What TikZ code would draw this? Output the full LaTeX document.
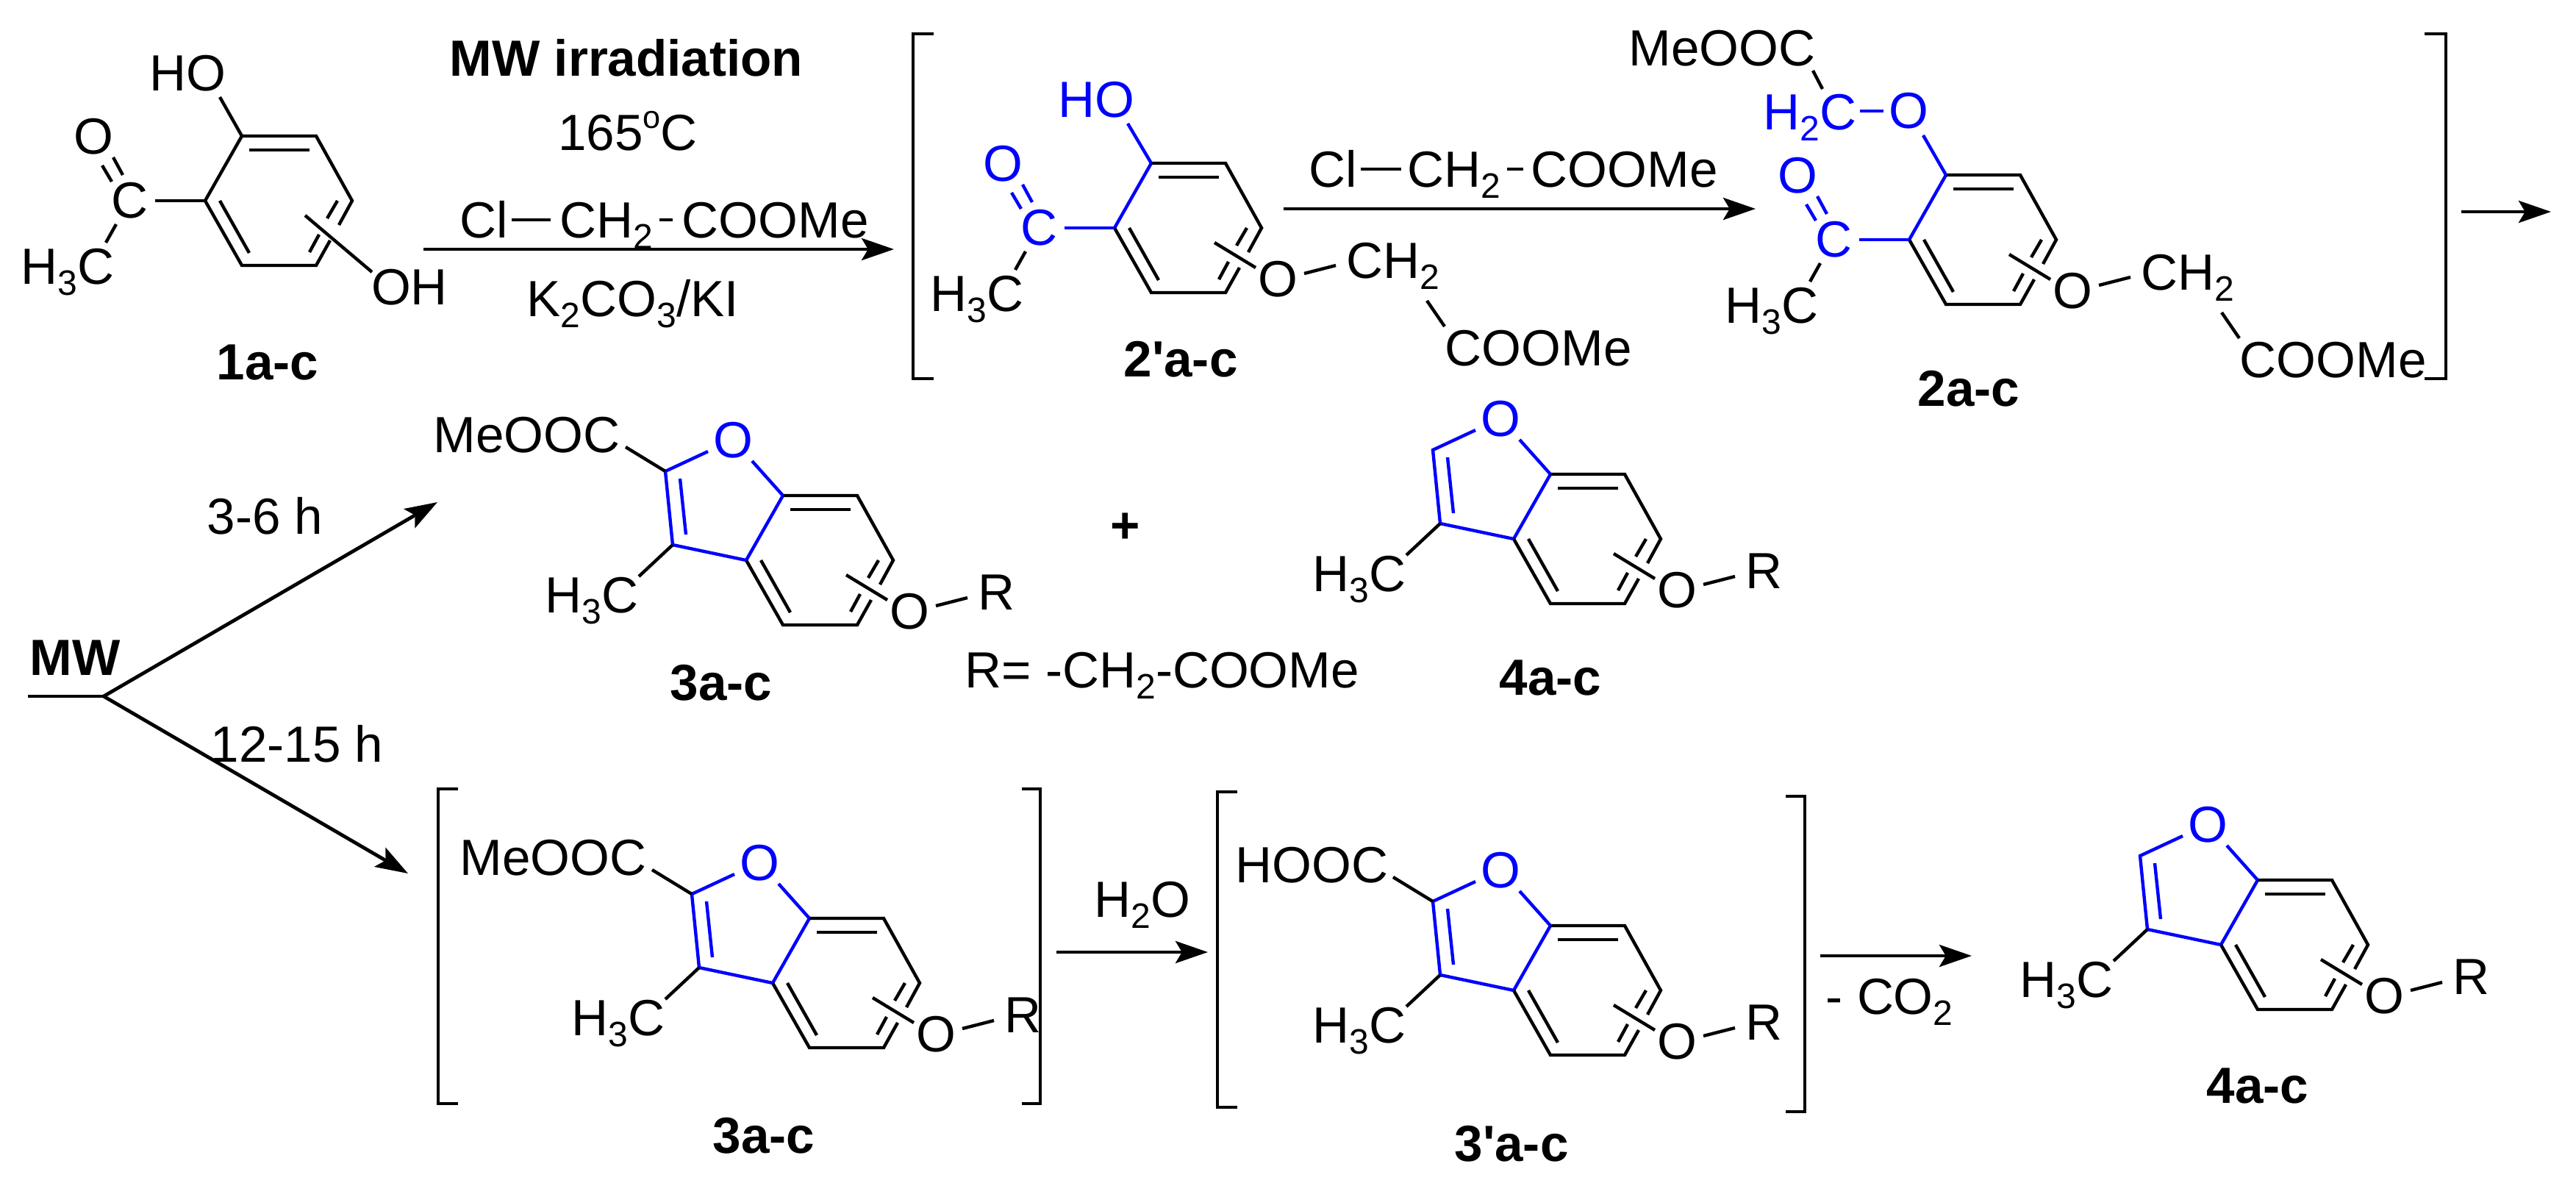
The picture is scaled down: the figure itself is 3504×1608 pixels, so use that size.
\documentclass[tikz,border=0pt]{standalone}
\usepackage{fontspec}
\setmainfont{Liberation Sans}
\newfontfamily\rawfam{Liberation Sans}
\usetikzlibrary{arrows.meta}
\definecolor{hiblue}{RGB}{0,0,255}
\newcommand\sbs[1]{\raisebox{-3.9pt}{\fontsize{12}{12}\selectfont #1}}
\newcommand\sps[1]{\raisebox{7.5pt}{\fontsize{10.8}{12}\selectfont #1}}
\newcommand\prm{{\rawfam\bfseries '}}
\tikzset{
  x=0.25pt,y=-0.25pt,
  bond/.style={line width=1.1pt,line cap=butt,line join=miter},
  rxn/.style={line width=1.2pt,-{Stealth[length=11pt,width=7.5pt,inset=2.2pt]}},
  brk/.style={line width=1.1pt,line join=miter},
  txt/.style={anchor=base west,inner sep=0pt,font=\fontsize{17.3}{20}\selectfont},
  atom/.style={anchor=center,inner sep=0pt,font=\fontsize{17.3}{20}\selectfont},
  lab/.style={anchor=center,inner sep=0pt,font=\fontsize{17.3}{20}\selectfont\bfseries},
  flat/.style={text height=12pt,text depth=0pt}
}
% benzene ring, L is the left vertex
\newcommand\RingAr[4]{%
 \begin{scope}[shift={(#2,#3)}]
  \coordinate (#1L) at (0,0);
  \coordinate (#1TL) at (50,-88);
  \coordinate (#1TR) at (151,-88);
  \coordinate (#1R) at (200,0);
  \coordinate (#1BR) at (151,88);
  \coordinate (#1BL) at (50,88);
  \coordinate (#1ga) at (182,33);
  \coordinate (#1gb) at (170,54);
  \coordinate (#1ia) at (60,-69);
  \coordinate (#1ib) at (142,-69);
  \coordinate (#1ic) at (20,0);
  \coordinate (#1id) at (60,71);
  \coordinate (#1ie) at (180,0);
  \coordinate (#1if) at (166,24);
  \coordinate (#1ig) at (155,46);
  \coordinate (#1ih) at (142,70);
  \coordinate (#1sa) at (136,20);
  \draw[bond,#4] (#1L) -- (#1TL);
  \draw[bond] (#1TL) -- (#1TR) -- (#1R) -- (#1ga);
  \draw[bond] (#1gb) -- (#1BR) -- (#1BL) -- (#1L);
  \draw[bond] (#1ia) -- (#1ib);
  \draw[bond] (#1ic) -- (#1id);
  \draw[bond] (#1ie) -- (#1if);
  \draw[bond] (#1ig) -- (#1ih);
 \end{scope}}
% ring oxygen substituent
\newcommand\OSub[3]{%
 \begin{scope}[shift={(#2,#3)}]
  \coordinate (#1sb) at (192,54);
  \node[atom] (#1oa) at (222,70) {O};
  \coordinate (#1oe) at (258,62);
  \coordinate (#1of) at (301,51);
  \draw[bond] (#1sa) -- (#1sb);
  \draw[bond] (#1oe) -- (#1of);
 \end{scope}}
% -O-R
\newcommand\RPart[3]{%
 \begin{scope}[shift={(#2,#3)}]
  \node[txt] (#1r) at (315,67) {R};
 \end{scope}}
% -O-CH2-COOMe chain
\newcommand\Chain[3]{%
 \begin{scope}[shift={(#2,#3)}]
  \node[txt] (#1ch) at (315,68) {CH\sbs{2}};
  \coordinate (#1ca) at (425,99);
  \coordinate (#1cb) at (449,134);
  \node[txt] (#1coo) at (449,187) {COOMe};
  \draw[bond] (#1ca) -- (#1cb);
 \end{scope}}
% acetyl group
\newcommand\Acetyl[4]{%
 \begin{scope}[shift={(#2,#3)}]
  \node[atom,text=#4] (#1c) at (-103,0) {C};
  \node[atom,text=#4] (#1co) at (-152,-87) {O};
  \coordinate (#1da) at (-140,-48);
  \coordinate (#1db) at (-127,-26);
  \coordinate (#1dc) at (-125,-59);
  \coordinate (#1dd) at (-112,-35);
  \coordinate (#1cl) at (-68,0);
  \coordinate (#1ma) at (-121,32);
  \coordinate (#1mb) at (-135,57);
  \node[txt] (#1me) at (-251,113) {H\sbs{3}C};
  \draw[bond,#4] (#1da) -- (#1db);
  \draw[bond,#4] (#1dc) -- (#1dd);
  \draw[bond,#4] (#1cl) -- (#1L);
  \draw[bond] (#1ma) -- (#1mb);
 \end{scope}}
% furan part, fused on the ring
\newcommand\Furan[3]{%
 \begin{scope}[shift={(#2,#3)}]
  \coordinate (#1c3) at (-100,-21);
  \coordinate (#1c2) at (-110,-121);
  \node[atom,text=hiblue] (#1fo) at (-18,-163) {O};
  \coordinate (#1fa) at (-52,-148);
  \coordinate (#1fb) at (8,-135);
  \coordinate (#1fc) at (-90,-111);
  \coordinate (#1fd) at (-82,-35);
  \coordinate (#1me) at (-146,22);
  \node[txt] (#1mt) at (-274,71) {H\sbs{3}C};
  \draw[bond,hiblue] (#1fa) -- (#1c2) -- (#1c3) -- (#1L);
  \draw[bond,hiblue] (#1fb) -- (#1TL);
  \draw[bond,hiblue] (#1fc) -- (#1fd);
  \draw[bond] (#1c3) -- (#1me);
 \end{scope}}
% ester on C2
\newcommand\Ester[5]{%
 \begin{scope}[shift={(#2,#3)}]
  \coordinate (#1eb) at (-164,-154);
  \node[txt] (#1es) at (#4,-147) {#5};
  \draw[bond] (#1eb) -- (#1c2);
 \end{scope}}
\begin{document}
\begin{tikzpicture}
\useasboundingbox (0,0) rectangle (3504,1608);
\fill[white] (0,0) rectangle (3504,1608);

% ---- compound 1
\RingAr{a}{279}{273}{black}
\Acetyl{a}{279}{273}{black}
\node[atom] (aho) at (255,100) {HO};
\coordinate (ahb) at (299,132);
\draw[bond] (ahb) -- (aTL);
\node[atom] (aoh) at (557,391) {OH};
\coordinate (ase) at (506,370);
\draw[bond] (asa) -- (ase);
\node[lab] (n1) at (364,493) {1a-c};

% ---- reagents 1
\node[lab] (mwi) at (852,79) {MW irradiation};
\node[atom] (tmp) at (854,178) {165\sps{o}C};
\node[txt,flat] (cla) at (625,323) {Cl};
\node[txt,flat] (cha) at (761,323) {CH\sbs{2}};
\node[txt,flat] (esa) at (927,323) {COOMe};
\draw[bond,shorten <=1pt,shorten >=3pt] (cla.east) -- (cha.west);
\draw[bond,shorten <=2pt,shorten >=3pt] (cha.east) -- (esa.west);
\coordinate (ar1s) at (576,339);
\coordinate (ar1e) at (1216,339);
\draw[rxn] (ar1s) -- (ar1e);
\node[txt] (kbase) at (716,430) {K\sbs{2}CO\sbs{3}/KI};

% ---- bracket top left
\draw[brk] (1270,46) -- (1242,46) -- (1242,515) -- (1270,515);

% ---- compound 2'
\RingAr{b}{1516}{310}{hiblue}
\Acetyl{b}{1516}{310}{hiblue}
\OSub{b}{1516}{310}
\Chain{b}{1516}{310}
\node[atom,text=hiblue] (bho) at (1491,136) {HO};
\coordinate (bhb) at (1534,168);
\draw[bond,hiblue] (bhb) -- (bTL);
\node[lab] (n2p) at (1606,489) {2\prm a-c};

% ---- reagents 2
\node[txt,flat] (clb) at (1780,254) {Cl};
\node[txt,flat] (chb) at (1914,254) {CH\sbs{2}};
\node[txt,flat] (esb) at (2082,254) {COOMe};
\draw[bond,shorten <=1pt,shorten >=2pt] (clb.east) -- (chb.west);
\draw[bond,shorten <=2pt,shorten >=2.5pt] (chb.east) -- (esb.west);
\coordinate (ar2s) at (1746,284);
\coordinate (ar2e) at (2388,284);
\draw[rxn] (ar2s) -- (ar2e);

% ---- compound 2
\RingAr{d}{2597}{326}{hiblue}
\Acetyl{d}{2597}{326}{hiblue}
\OSub{d}{2597}{326}
\Chain{d}{2597}{326}
\begin{scope}[shift={(2597,326)}]
 \node[atom,text=hiblue] (dao) at (-1,-175) {O};
 \node[txt,text=hiblue] (dh2) at (-199,-150) {H\sbs{2}C};
 \node[txt] (dme) at (-382,-237) {MeOOC};
 \coordinate (dba) at (19,-142);
 \coordinate (dbb) at (-67,-175);
 \coordinate (dbc) at (-35,-175);
 \coordinate (dbd) at (-131,-230);
 \coordinate (dbe) at (-118,-205);
 \draw[bond,hiblue] (dba) -- (dTL);
 \draw[bond,hiblue] (dbb) -- (dbc);
 \draw[bond] (dbd) -- (dbe);
\end{scope}
\node[lab] (n2) at (2678,529) {2a-c};
\draw[brk] (3298,46) -- (3327,46) -- (3327,515) -- (3298,515);
\coordinate (ar3s) at (3348,288);
\coordinate (ar3e) at (3470,288);
\draw[rxn] (ar3s) -- (ar3e);

% ---- MW branch
\node[lab] (mw) at (102,895) {MW};
\coordinate (mwa) at (38,947);
\coordinate (mwb) at (141,947);
\coordinate (mwu) at (595,683);
\coordinate (mwd) at (555,1188);
\draw[bond] (mwa) -- (mwb);
\draw[rxn] (mwb) -- (mwu);
\draw[rxn] (mwb) -- (mwd);
\node[txt] (t36) at (281,726) {3-6 h};
\node[txt] (t12) at (286,1036) {12-15 h};

% ---- 3a-c top
\RingAr{e}{1015}{762}{hiblue}
\Furan{e}{1015}{762}
\Ester{e}{1015}{762}{-426}{MeOOC}
\OSub{e}{1015}{762}
\RPart{e}{1015}{762}
\node[lab] (n3) at (981,929) {3a-c};
\node[lab] (plus) at (1531,718) {+};
\node[txt] (rdef) at (1312,935) {R= -CH\sbs{2}-COOMe};

% ---- 4a-c top
\RingAr{f}{2059}{733}{hiblue}
\Furan{f}{2059}{733}
\OSub{f}{2059}{733}
\RPart{f}{2059}{733}
\node[lab] (n4) at (2109,922) {4a-c};

% ---- 3a-c bracket
\draw[brk] (623,1073) -- (596,1073) -- (596,1501) -- (623,1501);
\RingAr{g}{1051}{1337}{hiblue}
\Furan{g}{1051}{1337}
\Ester{g}{1051}{1337}{-426}{MeOOC}
\OSub{g}{1051}{1337}
\RPart{g}{1051}{1337}
\draw[brk] (1390,1073) -- (1415,1073) -- (1415,1501) -- (1390,1501);
\node[lab] (n3b) at (1039,1545) {3a-c};

\coordinate (ar4s) at (1437,1295);
\coordinate (ar4e) at (1643,1295);
\draw[rxn] (ar4s) -- (ar4e);
\node[txt] (h2o) at (1488,1247) {H\sbs{2}O};

% ---- 3'a-c bracket
\draw[brk] (1683,1077) -- (1656,1077) -- (1656,1506) -- (1683,1506);
\RingAr{h}{2059}{1347}{hiblue}
\Furan{h}{2059}{1347}
\Ester{h}{2059}{1347}{-379}{HOOC}
\OSub{h}{2059}{1347}
\RPart{h}{2059}{1347}
\draw[brk] (2429,1083) -- (2455,1083) -- (2455,1512) -- (2429,1512);
\node[lab] (n3p) at (2056,1556) {3\prm a-c};

\coordinate (ar5s) at (2476,1300);
\coordinate (ar5e) at (2682,1300);
\draw[rxn] (ar5s) -- (ar5e);
\node[txt] (co2) at (2483,1379) {- CO\sbs{2}};

% ---- 4a-c final
\RingAr{k}{3021}{1285}{hiblue}
\Furan{k}{3021}{1285}
\OSub{k}{3021}{1285}
\RPart{k}{3021}{1285}
\node[lab] (n4b) at (3071,1477) {4a-c};
\end{tikzpicture}
\end{document}
